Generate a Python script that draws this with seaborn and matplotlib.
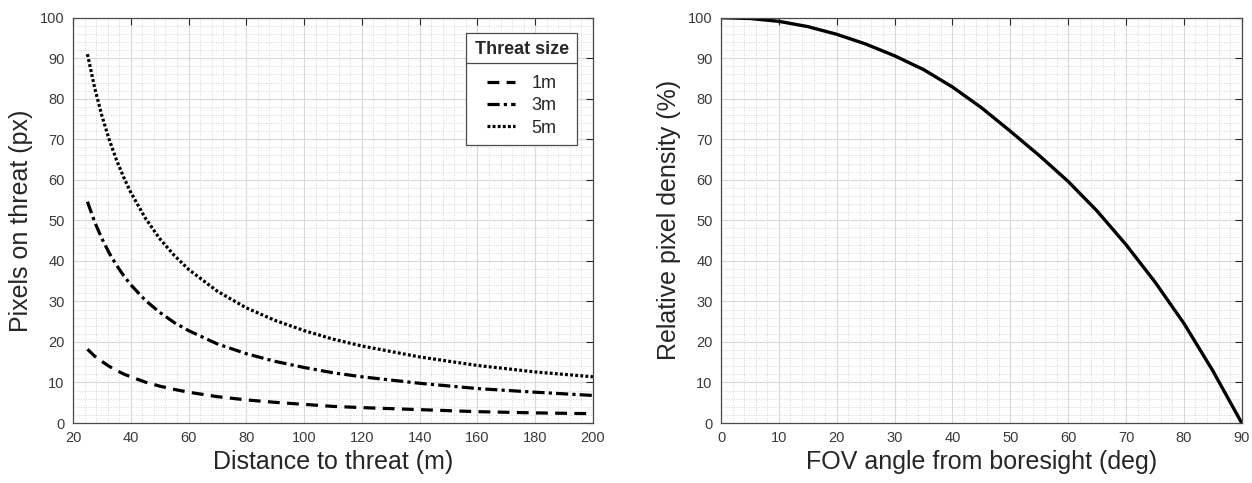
import matplotlib
matplotlib.use("Agg")
import matplotlib.pyplot as plt
from matplotlib.ticker import MultipleLocator, AutoMinorLocator
from matplotlib.lines import Line2D
import seaborn as sns
import pandas as pd

# ---- data ----
distance_m = [25, 27.5, 30, 32.5, 35, 37.5, 40, 45, 50, 55, 60, 70, 80, 90,
              100, 110, 120, 140, 160, 180, 200]
px_1m = [18.2, 16.5, 15.2, 14.0, 13.0, 12.1, 11.4, 10.1, 9.1, 8.3, 7.6, 6.5,
         5.7, 5.1, 4.6, 4.1, 3.8, 3.3, 2.8, 2.5, 2.3]
px_3m = [54.6, 49.6, 45.5, 42.0, 39.0, 36.4, 34.1, 30.3, 27.3, 24.8, 22.8,
         19.5, 17.1, 15.2, 13.7, 12.4, 11.4, 9.8, 8.5, 7.6, 6.8]
px_5m = [91.0, 82.7, 75.8, 70.0, 65.0, 60.7, 56.9, 50.6, 45.5, 41.4, 37.9,
         32.5, 28.4, 25.3, 22.8, 20.7, 19.0, 16.3, 14.2, 12.6, 11.4]
series_labels = ["1m", "3m", "5m"]

fov_deg = [0, 5, 10, 15, 20, 25, 30, 35, 40, 45, 50, 55, 60, 65, 70, 75, 80, 85, 90]
rel_density = [100, 99.8, 99.1, 97.8, 95.9, 93.5, 90.6, 87.2, 82.9, 77.8,
               72.0, 66.0, 59.6, 52.3, 44.0, 34.8, 24.6, 12.9, 0]

# ---- style ----
sns.set_style("white")
plt.rcParams["font.family"] = ["Liberation Sans", "DejaVu Sans"]
axis_col = "#262626"

fig = plt.figure(figsize=(12.52, 4.83), dpi=100)
ax1 = fig.add_axes([0.0583, 0.1242, 0.4153, 0.8392])
ax2 = fig.add_axes([0.5759, 0.1242, 0.4159, 0.8392])

# left panel
df_left = pd.DataFrame({
    "d": distance_m * 3,
    "px": px_1m + px_3m + px_5m,
    "size": [series_labels[0]] * len(distance_m) + [series_labels[1]] * len(distance_m)
            + [series_labels[2]] * len(distance_m),
})
styles = {"1m": (0, (3.7, 2.3)), "3m": (0, (3.8, 1.3, 1.0, 1.3)), "5m": (0, (0.9, 0.7))}
for lab in series_labels:
    sub = df_left[df_left["size"] == lab]
    sns.lineplot(data=sub, x="d", y="px", ax=ax1, color="black", lw=2.3,
                 linestyle=styles[lab], label=lab, legend=False)

# right panel
df_right = pd.DataFrame({"fov": fov_deg, "rel": rel_density})
sns.lineplot(data=df_right, x="fov", y="rel", ax=ax2, color="black", lw=2.4)

def style_ax(ax, xlim, xmaj, ylim, ymaj, xlabel, ylabel):
    ax.set_xlim(*xlim)
    ax.set_ylim(*ylim)
    ax.xaxis.set_major_locator(MultipleLocator(xmaj))
    ax.yaxis.set_major_locator(MultipleLocator(ymaj))
    ax.xaxis.set_minor_locator(AutoMinorLocator(5))
    ax.yaxis.set_minor_locator(AutoMinorLocator(5))
    ax.grid(True, which="major", color="#d9d9d9", lw=0.8, ls="-")
    ax.grid(True, which="minor", color="#c8c8c8", lw=0.6, ls=(0, (1, 2)))
    ax.set_axisbelow(True)
    ax.tick_params(which="major", direction="in", length=5, width=0.8,
                   top=True, right=True, colors=axis_col, labelsize=10.5,
                   labelcolor="#3a3a3a", pad=6)
    ax.tick_params(which="minor", length=0, top=True, right=True)
    for s in ax.spines.values():
        s.set_color("#4a4a4a")
        s.set_linewidth(0.9)
    ax.set_xlabel(xlabel, fontsize=18, color="#262626", labelpad=3)
    ax.set_ylabel(ylabel, fontsize=18, color="#262626", labelpad=5)

style_ax(ax1, (20, 200), 20, (0, 100), 10, "Distance to threat (m)", "Pixels on threat (px)")
style_ax(ax2, (0, 90), 10, (0, 100), 10, "FOV angle from boresight (deg)",
         "Relative pixel density (%)")

leg = ax1.legend(title="Threat size", loc="upper right", bbox_to_anchor=(0.969, 0.962),
                 borderaxespad=0, frameon=True, fancybox=False, framealpha=1,
                 edgecolor="#4a4a4a", fontsize=13,
                 title_fontproperties={"weight": "bold", "size": 13},
                 handlelength=1.6, borderpad=0.45, labelspacing=0.3, handletextpad=0.9,
                 alignment="center")
leg.get_frame().set_linewidth(0.9)
leg._legend_box.sep = 12

# separator line under legend title (MATLAB style)
fig.canvas.draw()
r = fig.canvas.get_renderer()
lb = leg.get_frame().get_window_extent(r)
tb = leg.get_title().get_window_extent(r)
ysep = tb.y0 - 5
inv = fig.transFigure.inverted()
(x0f, yf), = inv.transform([(lb.x0, ysep)])
(x1f, _), = inv.transform([(lb.x1, ysep)])
fig.add_artist(Line2D([x0f, x1f], [yf, yf], transform=fig.transFigure,
                      color="#4a4a4a", lw=0.9))

fig.savefig("out.png", dpi=100, facecolor="white")
